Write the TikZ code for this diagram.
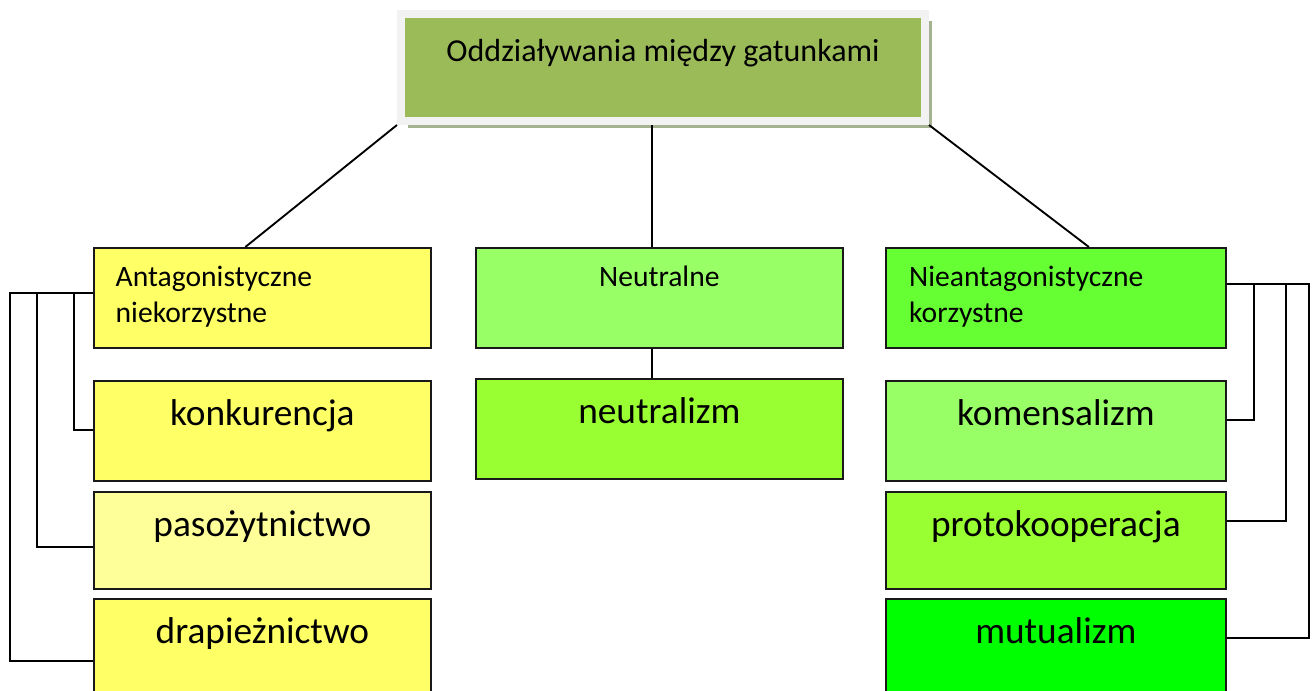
\documentclass[tikz,border=0pt]{standalone}
\usepackage{fontspec}
\setmainfont{Carlito}
\usetikzlibrary{positioning,calc,shadows}

\definecolor{rootgreen}{HTML}{9BBB59}
\definecolor{framegray}{HTML}{F2F2F2}
\definecolor{shadowolive}{HTML}{A5B291}
\definecolor{yellowA}{HTML}{FFFF66}
\definecolor{yellowB}{HTML}{FFFF99}
\definecolor{greenA}{HTML}{99FF66}
\definecolor{greenB}{HTML}{99FF33}
\definecolor{greenC}{HTML}{66FF33}
\definecolor{greenD}{HTML}{00FF00}

\tikzset{
  box/.style={draw=black!90, line width=1.3pt, anchor=north west, inner ysep=0pt, inner xsep=16pt},
  headbox/.style={box, font=\fontsize{22.2}{27}\selectfont, text height=29.25pt, text depth=45.75pt, minimum height=75pt},
  leafbox/.style={box, font=\fontsize{28}{33}\selectfont, text height=33.75pt},
  link/.style={draw=black, line width=1.4pt}
}

\begin{document}
\begin{tikzpicture}[x=0.75pt, y=-0.75pt]
    \useasboundingbox (0,0) rectangle (1312,691);

    % Root
    \node[fill=rootgreen, draw=framegray, line width=6pt, anchor=north west,
          drop shadow={shadow xshift=5.5pt, shadow yshift=-5.5pt, fill=shadowolive, opacity=1},
          minimum width=393pt, minimum height=80.25pt, inner ysep=0pt,
          text height=36pt, text depth=44.25pt, font=\fontsize{24}{29}\selectfont]
          (root) at (397,10) {Oddziaływania między gatunkami};

    % Groups
    \node[headbox, fill=yellowA, minimum width=252.75pt, text width=220pt, align=left] (anta) at (93,247) {Antagonistyczne\\niekorzystne};
    \node[headbox, fill=greenA, minimum width=275.25pt, align=center] (neut) at (475,247) {Neutralne};
    \node[headbox, fill=greenC, minimum width=255pt, text width=220pt, align=left] (nant) at (885,247) {Nieantagonistyczne\\korzystne};

    % Interactions
    \node[leafbox, fill=yellowA, minimum width=252.75pt, minimum height=75pt, text depth=41.25pt] (konk) at (93,380) {konkurencja};
    \node[leafbox, fill=yellowB, minimum width=252.75pt, minimum height=72.75pt, text depth=39pt] (paso) at (93,491) {pasożytnictwo};
    \node[leafbox, fill=yellowA, minimum width=252.75pt, minimum height=94.5pt, text depth=60.75pt] (drap) at (93,598) {drapieżnictwo};
    \node[leafbox, fill=greenB, minimum width=275.25pt, minimum height=75pt, text depth=41.25pt] (neua) at (475,378) {neutralizm};
    \node[leafbox, fill=greenA, minimum width=255pt, minimum height=75pt, text depth=41.25pt] (kome) at (885,380) {komensalizm};
    \node[leafbox, fill=greenB, minimum width=255pt, minimum height=72.75pt, text depth=39pt] (prot) at (885,491) {protokooperacja};
    \node[leafbox, fill=greenD, minimum width=255pt, minimum height=94.5pt, text depth=60.75pt] (mutu) at (885,598) {mutualizm};

    % Links from the root
    \draw[link] (root.south west) -- ($(anta.north)+(-17,0)$);
    \draw[link] (root.south east) -- ($(nant.north)+(33,0)$);
    \coordinate (trunk) at ($(neut.north)+(-7,0)$);
    \draw[link] (root.south -| trunk) -- (trunk);
    \draw[link] (neut.south -| trunk) -- (neua.north -| trunk);

    % Side brackets
    \foreach \leaf/\dx/\dy in {konk/19/50, paso/56/56, drap/83/63} {
      \draw[link] ($(anta.north west)+(0,46)$) -- ++(-\dx,0) |- ($(\leaf.north west)+(0,\dy)$);
    }
    \foreach \leaf/\dx/\dy in {kome/27/40, prot/59/30, mutu/82/40} {
      \draw[link] ($(nant.north east)+(0,37)$) -- ++(\dx,0) |- ($(\leaf.north east)+(0,\dy)$);
    }
\end{tikzpicture}
\end{document}
